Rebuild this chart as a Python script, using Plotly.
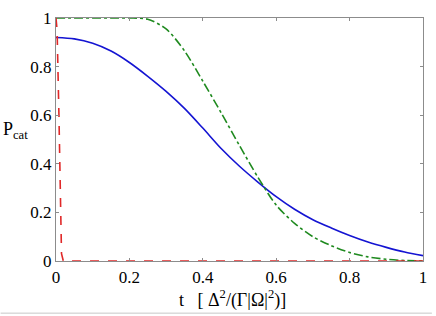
import plotly.graph_objects as go

t_grid = [0.0, 0.05, 0.1, 0.15, 0.2, 0.25, 0.3, 0.35, 0.4, 0.45, 0.5,
          0.55, 0.6, 0.65, 0.7, 0.75, 0.8, 0.85, 0.9, 0.95, 1.0]
p_blue = [0.92, 0.914, 0.896, 0.864, 0.817, 0.76, 0.698, 0.628, 0.547, 0.463, 0.39,
          0.325, 0.265, 0.213, 0.17, 0.136, 0.105, 0.078, 0.056, 0.037, 0.022]
p_green = [1.0, 1.0, 1.0, 1.0, 1.0, 0.995, 0.955, 0.865, 0.74, 0.61, 0.475,
           0.345, 0.23, 0.155, 0.10, 0.063, 0.035, 0.017, 0.007, 0.002, 0.0]
t_red = [0.0, 0.003, 0.008, 0.012, 0.015, 0.02, 1.0]
p_red = [1.0, 0.95, 0.6, 0.2, 0.03, 0.0, 0.0]

tick_vals = [0, 0.2, 0.4, 0.6, 0.8, 1]
tick_text = ["0", "0.2", "0.4", "0.6", "0.8", "1"]

SERIF = "Times New Roman, Liberation Serif, serif"

fig = go.Figure()
fig.add_trace(go.Scatter(x=t_grid, y=p_blue, mode="lines",
                         line=dict(color="#1414d2", width=1.6, shape="spline", smoothing=0.8),
                         showlegend=False))
fig.add_trace(go.Scatter(x=t_grid, y=p_green, mode="lines",
                         line=dict(color="#1f8a1f", width=1.6, dash="dashdot", shape="spline", smoothing=0.8),
                         showlegend=False))
fig.add_trace(go.Scatter(x=t_red, y=p_red, mode="lines",
                         line=dict(color="#e02828", width=1.6, dash="dash"), showlegend=False))

axis_common = dict(
    showgrid=False, zeroline=False, showline=True, linecolor="#8c8c8c", linewidth=1.2,
    mirror="ticks", ticks="inside", ticklen=3, tickcolor="#8c8c8c",
    tickfont=dict(family=SERIF, size=17, color="black"),
    tickvals=tick_vals, ticktext=tick_text,
)
fig.update_xaxes(range=[0, 1], **axis_common)
fig.update_yaxes(range=[0, 1], **axis_common)

fig.update_layout(
    width=436, height=316,
    margin=dict(l=56, r=9, t=14, b=55),
    plot_bgcolor="white", paper_bgcolor="white",
    annotations=[
        dict(text="P<sub>cat</sub>", xref="paper", yref="paper",
             x=-56/371, y=(261-128)/247, xanchor="left", yanchor="middle",
             showarrow=False, font=dict(family=SERIF, size=18, color="black")),
        dict(text="t   [ Δ<sup>2</sup>/(Γ|Ω|<sup>2</sup>)]", xref="paper", yref="paper",
             x=(178-56)/371, y=-(300-261)/247, xanchor="left", yanchor="middle",
             showarrow=False, font=dict(family=SERIF, size=18, color="black")),
    ],
    shapes=[dict(type="line", xref="paper", yref="paper",
                 x0=-56/371, x1=(436-56)/371, y0=-(314-261)/247, y1=-(314-261)/247,
                 line=dict(color="#c8c8c8", width=1))],
)

fig.write_html("out.html", config={"displayModeBar": False},
               post_script="document.body.style.margin='0';document.body.style.padding='0';")
